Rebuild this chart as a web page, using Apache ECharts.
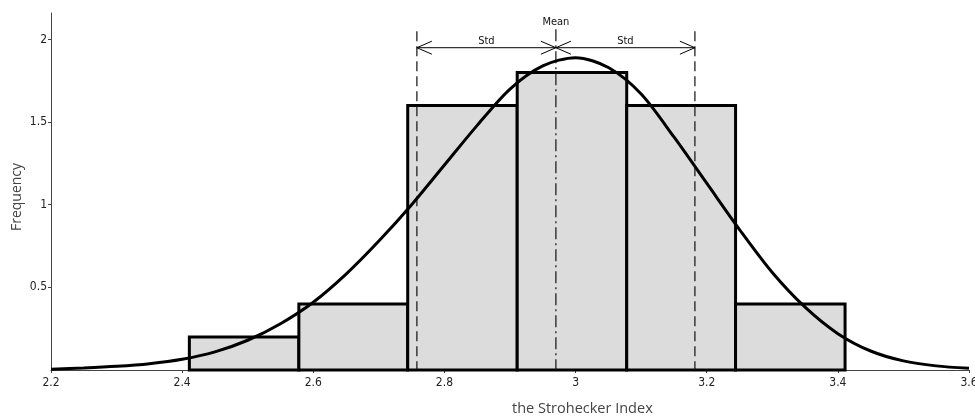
<!DOCTYPE html>
<html>
<head>
<meta charset="utf-8">
<script src="https://cdn.jsdelivr.net/npm/echarts@6/dist/echarts.min.js"></script>
<style>
  html, body { margin: 0; padding: 0; background: #fff; }
  #chart { width: 975px; height: 416px; }
</style>
</head>
<body>
<div id="chart"></div>
<script>
// Histogram bin edges and their frequencies
const binEdges = [2.411, 2.578, 2.744, 2.911, 3.078, 3.244, 3.411];
const frequencies = [0.2, 0.4, 1.6, 1.8, 1.6, 0.4];

// Fitted distribution curve, sampled along the index
const curveX = [2.20, 2.25, 2.30, 2.35, 2.40, 2.45, 2.50, 2.55, 2.60, 2.65, 2.70, 2.75, 2.80, 2.85, 2.90,
                2.95, 3.00, 3.05, 3.10, 3.15, 3.20, 3.25, 3.30, 3.35, 3.40, 3.45, 3.50, 3.55, 3.60];
const curveY = [0.005, 0.012, 0.022, 0.038, 0.065, 0.11, 0.18, 0.28, 0.41, 0.58, 0.78, 1.00, 1.24, 1.48, 1.70,
                1.84, 1.89, 1.83, 1.67, 1.41, 1.13, 0.85, 0.59, 0.38, 0.22, 0.115, 0.055, 0.025, 0.01];

// Summary statistics marked above the histogram
const meanValue = 2.97;
const stdValue = 0.212;
const guideTop = 2.05;     // top of the vertical guide lines
const arrowLevel = 1.95;   // height of the Std dimension arrows
const meanLabelLevel = 2.11;

const axisFont = "'Liberation Sans Narrow', 'DejaVu Sans Condensed', 'Liberation Sans', sans-serif";
const titleFont = "'Open Sans', 'DejaVu Sans', sans-serif";

const barData = frequencies.map((f, i) => [binEdges[i], binEdges[i + 1], f]);
const curveData = curveX.map((x, i) => [x, curveY[i]]);

function renderBar(params, api) {
  const p0 = api.coord([api.value(0), 0]);
  const p1 = api.coord([api.value(1), api.value(2)]);
  return {
    type: 'rect',
    shape: { x: p0[0], y: p1[1], width: p1[0] - p0[0], height: p0[1] - p1[1] },
    style: { fill: '#dcdcdc', stroke: '#000', lineWidth: 3 }
  };
}

function chevron(tip, dir) {
  // open arrowhead; dir = -1 points left, +1 points right
  const len = 15, half = 6.5;
  return {
    type: 'polyline',
    shape: { points: [[tip[0] - dir * len, tip[1] - half], tip, [tip[0] - dir * len, tip[1] + half]] },
    style: { stroke: '#000', lineWidth: 1, fill: null }
  };
}

function renderStats(params, api) {
  const mean = api.value(0), sd = api.value(1);
  const lo = mean - sd, hi = mean + sd;
  const base = (x) => api.coord([x, 0]);
  const top = (x) => api.coord([x, guideTop]);
  const arr = (x) => api.coord([x, arrowLevel]);
  const children = [];
  // dashed guides at mean ± std
  [lo, hi].forEach((x) => {
    const b = base(x), t = top(x);
    children.push({
      type: 'line',
      shape: { x1: t[0], y1: t[1], x2: b[0], y2: b[1] },
      style: { stroke: '#111', lineWidth: 1.2, lineDash: [10, 5] }
    });
  });
  // dash-dot line at the mean
  const mb = base(mean), mt = top(mean);
  children.push({
    type: 'line',
    shape: { x1: mt[0], y1: mt[1] - 2, x2: mb[0], y2: mb[1] },
    style: { stroke: '#111', lineWidth: 1.2, lineDash: [12, 4, 2, 4] }
  });
  // Std dimension arrows
  const a0 = arr(lo), a1 = arr(mean), a2 = arr(hi);
  children.push({
    type: 'line',
    shape: { x1: a0[0], y1: a0[1], x2: a2[0], y2: a2[1] },
    style: { stroke: '#000', lineWidth: 1 }
  });
  children.push(chevron(a0, -1), chevron(a1, 1), chevron(a1, -1), chevron(a2, 1));
  // labels
  children.push({
    type: 'text',
    style: { text: 'Std', x: (a0[0] + a1[0]) / 2, y: a0[1] - 1, align: 'center', verticalAlign: 'bottom',
             font: '11px ' + axisFont, fill: '#111' }
  });
  children.push({
    type: 'text',
    style: { text: 'Std', x: (a1[0] + a2[0]) / 2, y: a1[1] - 1, align: 'center', verticalAlign: 'bottom',
             font: '11px ' + axisFont, fill: '#111' }
  });
  const ml = api.coord([mean, meanLabelLevel]);
  children.push({
    type: 'text',
    style: { text: 'Mean', x: ml[0], y: ml[1] + 1, align: 'center', verticalAlign: 'middle',
             font: '11px ' + axisFont, fill: '#111' }
  });
  return { type: 'group', children };
}

const chart = echarts.init(document.getElementById('chart'), null, { renderer: 'canvas' });
chart.setOption({
  animation: false,
  backgroundColor: '#fff',
  grid: { left: 51, right: 6, top: 13, bottom: 46, containLabel: false, outerBoundsMode: 'none' },
  xAxis: {
    type: 'value',
    min: 2.2, max: 3.6, interval: 0.2,
    axisLine: { show: true, lineStyle: { color: '#444', width: 1 } },
    axisTick: { show: true, length: 3, lineStyle: { color: '#444' } },
    axisLabel: { color: '#222', fontSize: 12, fontFamily: axisFont, margin: 7, showMaxLabel: true },
    splitLine: { show: false }
  },
  yAxis: {
    type: 'value',
    min: 0, max: 2.16, interval: 0.5,
    axisLine: { show: true, lineStyle: { color: '#444', width: 1 } },
    axisTick: { show: true, length: 3, lineStyle: { color: '#444' } },
    axisLabel: {
      color: '#222', fontSize: 12, fontFamily: axisFont, margin: 4,
      showMinLabel: false, showMaxLabel: false,
      formatter: (v) => (v === 0 ? '' : String(v))
    },
    splitLine: { show: false }
  },
  graphic: [
    {
      type: 'text',
      left: 512, top: 401,
      style: { text: 'the Strohecker Index', font: '14.5px ' + titleFont, fill: '#444' }
    },
    {
      type: 'text',
      x: 17, y: 197,
      rotation: Math.PI / 2,
      style: { text: 'Frequency', font: '14px ' + titleFont, fill: '#444', align: 'center', verticalAlign: 'middle' }
    }
  ],
  series: [
    {
      type: 'custom',
      name: 'Frequency',
      renderItem: renderBar,
      data: barData,
      encode: { x: [0, 1], y: 2 },
      z: 2
    },
    {
      type: 'custom',
      name: 'Statistics',
      renderItem: renderStats,
      data: [[meanValue, stdValue]],
      encode: { x: 0 },
      clip: false,
      z: 3
    },
    {
      type: 'line',
      name: 'Normal fit',
      data: curveData,
      smooth: 0.3,
      symbol: 'none',
      lineStyle: { color: '#000', width: 3 },
      z: 4
    }
  ]
});
</script>
</body>
</html>
